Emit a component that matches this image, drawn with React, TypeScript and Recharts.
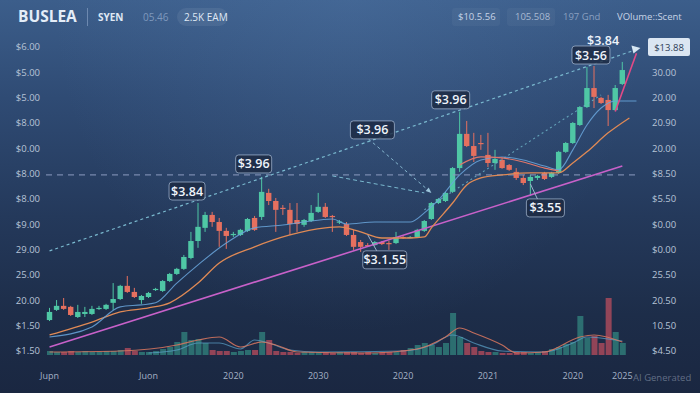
import {
  Bar,
  Cell,
  ComposedChart,
  Line,
  ReferenceDot,
  ReferenceLine,
  XAxis,
  YAxis,
} from 'recharts';

// candle values (price units of the left scale)
const opens = [
  1.22, 1.62, 1.78, 1.74, 1.34, 1.46, 1.46, 1.68, 1.66, 1.9,
  2.05, 2.57, 2.33, 2.01, 2.13, 2.41, 2.37, 2.76, 3.04, 3.24,
  3.67, 4.34, 4.86, 5.37, 5.09, 4.74, 4.58, 4.58, 4.74, 5.25,
  5.29, 6.24, 5.92, 5.65, 5.57, 5.17, 4.98, 5.13, 5.49, 5.69,
  5.33, 5.09, 5.01, 4.58, 4.3, 4.18, 4.18, 4.3, 4.26, 4.26,
  4.5, 4.48, 4.5, 4.74, 5.21, 5.84, 5.92, 6.28, 7.22, 8.57,
  8.09, 8.21, 7.74, 7.42, 7.54, 7.34, 7.07, 6.83, 6.71, 6.83,
  7.03, 6.87, 7.03, 7.86, 8.21, 8.92, 9.63, 10.38, 9.99, 9.91,
  9.51, 10.54,
];
const closes = [
  1.54, 1.78, 1.66, 1.42, 1.54, 1.54, 1.66, 1.7, 1.82, 2.05,
  2.57, 2.33, 2.13, 2.17, 2.29, 2.45, 2.76, 3.04, 3.24, 3.71,
  4.34, 4.9, 5.37, 5.09, 4.74, 4.54, 4.62, 4.78, 5.21, 4.78,
  6.28, 5.92, 5.57, 5.61, 5.01, 5.01, 5.17, 5.45, 5.69, 5.29,
  5.29, 5.11, 4.58, 4.11, 4.11, 4.15, 4.3, 4.22, 4.24, 4.5,
  4.46, 4.5, 4.78, 5.13, 5.84, 6.0, 6.24, 7.22, 8.57, 8.09,
  7.7, 8.17, 7.42, 7.58, 7.22, 7.15, 6.83, 6.63, 6.87, 6.91,
  6.79, 7.03, 7.86, 8.21, 9.0, 9.63, 10.38, 10.03, 9.79, 9.51,
  10.38, 11.09,
];
const highs = [
  1.7, 2.01, 2.09, 1.78, 1.82, 1.74, 1.78, 1.78, 1.86, 2.68,
  2.61, 2.96, 2.49, 2.21, 2.33, 2.49, 2.8, 3.08, 3.28, 3.79,
  4.7, 5.84, 5.49, 5.49, 5.25, 4.86, 4.7, 4.82, 5.25, 5.33,
  6.87, 6.4, 6.04, 5.76, 5.84, 5.84, 5.21, 5.76, 6.24, 5.84,
  5.37, 5.17, 5.09, 4.78, 4.38, 4.26, 4.34, 4.34, 4.34, 4.7,
  4.54, 4.54, 4.82, 5.17, 5.88, 6.04, 6.28, 7.26, 9.44, 9.08,
  8.61, 8.53, 8.61, 7.94, 7.62, 7.38, 7.22, 6.95, 6.95, 6.95,
  7.07, 7.07, 7.9, 8.25, 9.04, 9.67, 11.21, 11.25, 10.03, 10.11,
  10.5, 11.41,
];
const lows = [
  1.18, 1.58, 1.62, 1.38, 1.3, 1.34, 1.42, 1.62, 1.62, 1.62,
  2.01, 2.29, 2.09, 1.86, 2.09, 2.37, 2.33, 2.72, 3.0, 3.2,
  3.62, 4.07, 4.7, 4.9, 4.11, 4.03, 4.5, 4.54, 4.7, 4.74,
  5.17, 5.76, 4.7, 5.37, 4.58, 4.7, 4.9, 5.09, 5.45, 5.25,
  4.7, 5.01, 4.54, 3.99, 3.91, 4.11, 4.15, 4.18, 3.99, 4.22,
  4.42, 4.46, 4.46, 4.7, 5.17, 5.8, 5.88, 6.24, 7.07, 8.05,
  7.46, 7.94, 7.26, 7.15, 7.19, 7.11, 6.75, 6.55, 6.12, 6.75,
  6.75, 6.83, 6.99, 7.82, 8.17, 8.88, 9.59, 9.59, 9.75, 8.88,
  9.47, 10.5,
];
const volumes = [
  4, 3, 3, 4, 3, 4, 3, 3, 4, 4,
  5, 7, 4, 3, 3, 4, 6, 8, 13, 23,
  15, 16, 12, 5, 4, 4, 3, 4, 5, 5,
  23, 15, 4, 3, 3, 2, 3, 3, 3, 3,
  2, 3, 3, 3, 2, 3, 2, 3, 3, 3,
  5, 7, 10, 12, 10, 8, 12, 42, 18, 12,
  8, 4, 3, 3, 2, 2, 3, 3, 2, 3,
  4, 6, 8, 11, 13, 39, 17, 19, 12, 57,
  23, 12,
];

// indicator lines, [candle index, value]
const maFast: [number, number][] = [
  [0, 0.55], [6, 0.95], [10, 1.74], [13, 1.82], [15, 1.9], [18, 2.68], [21, 3.4],
  [25, 4.26], [29, 4.86], [33, 4.97], [36, 5.09], [40, 5.21], [42, 5.01], [46, 5.09],
  [51, 5.09], [53, 5.45], [55, 5.96], [58, 6.95], [61, 7.54], [64, 7.66], [67, 7.54],
  [70, 7.3], [72, 7.15], [74, 7.94], [76, 8.92], [78, 9.59], [80, 9.87], [83, 9.87],
];
const maSlow: [number, number][] = [
  [0, 0.63], [6, 1.14], [10, 1.54], [14, 1.7], [17, 1.9], [21, 2.68], [24, 3.47],
  [29, 4.11], [34, 4.58], [39, 4.86], [41, 4.9], [43, 4.78], [44, 4.7], [47, 4.46],
  [51, 4.46], [53, 4.5], [54, 4.86], [57, 5.84], [59, 6.55], [61, 6.83], [64, 6.95],
  [68, 7.03], [72, 7.03], [74, 7.42], [76, 7.86], [79, 8.61], [82, 9.2],
];
const maRed: [number, number][] = [
  [58, 7.34], [61, 7.66], [64, 7.62], [67, 7.46], [70, 7.22], [72, 7.11],
];
const trendUp: [number, number][] = [[0, 3.95], [83, 11.9]];
const trendLow: [number, number][] = [[0, 0.16], [81, 7.3]];
const trendMid: [number, number][] = [[53, 5.57], [78, 10.11]];
const trendPink: [number, number][] = [[80, 9.45], [83, 11.75]];
const arrowA: [number, number][] = [[40, 6.91], [53, 6.24]];
const volMaA: [number, number][] = [
  [0, 3], [10, 4], [18, 10], [21, 15], [24, 18], [27, 8], [30, 13], [32, 10], [35, 3],
  [45, 2], [52, 6], [56, 18], [58, 27], [60, 22], [64, 10], [66, 2], [70, 3], [75, 18],
  [77, 20], [81, 13],
];
const volMaB: [number, number][] = [
  [14, 2], [18, 5], [21, 12], [24, 12], [27, 6], [29, 15], [31, 12], [34, 5], [38, 3],
  [50, 4], [54, 10], [57, 20], [60, 12], [64, 4], [70, 3], [74, 12], [76, 18], [80, 15],
  [81, 14],
];

const leftTicks = [
  '$1.50', '$1.50', '20.00', '25.00', '29.00', '$9.00', '$8.00',
  '$8.00', '$0.00', '$8.00', '$5.00', '$5.00', '$6.00',
];
const rightTicks = [
  '$4.50', '10.50', '20.50', '25.50', '$0.00', '$0.00', '$5.50',
  '$8.50', '20.00', '20.90', '20.00', '30.00', '$13.88',
];
const xTickIndex = [0, 14, 26, 38, 50, 62, 74, 81];
const xTickLabels = ['Jupn', 'Juon', '2020', '2030', '2020', '2021', '2020', '2025'];

const notes = [
  { i: 21, v: highs[21], text: '$3.84', dx: -11, dy: -12, w: 36 },
  { i: 30, v: highs[30], text: '$3.96', dx: -8, dy: -13, w: 36 },
  { i: 54, v: 6.24, text: '$3.96', dx: -59, dy: -63, w: 44, arrow: true },
  { i: 58, v: highs[58], text: '$3.96', dx: -9, dy: -12, w: 38 },
  { i: 45, v: lows[45], text: '$3.1.55', dx: 17, dy: 13, w: 44, link: true },
  { i: 68, v: lows[68], text: '$3.55', dx: 15, dy: 12, w: 38, link: true },
  { i: 76, v: highs[76], text: '$3.56', dx: 4, dy: -12, w: 38 },
  { i: 77, v: highs[77], text: '$3.84', dx: 9, dy: -25, w: 0 },
];

const GREEN = '#4fc7a5';
const RED = '#e5705f';
const FONT = '"Open Sans", "Noto Sans", sans-serif';

const rows: any[] = Array.from({ length: opens.length + 2 }, (_, i) => ({
  key: `d${i}`,
  open: opens[i] ?? null,
  close: closes[i] ?? null,
  high: highs[i] ?? null,
  low: lows[i] ?? null,
  volume: volumes[i] ?? null,
}));
const put = (name: string, pts: [number, number][]) =>
  pts.forEach(([i, v]) => {
    rows[i][name] = v;
  });
put('maFast', maFast);
put('maSlow', maSlow);
put('maRed', maRed);
put('trendUp', trendUp);
put('trendLow', trendLow);
put('trendMid', trendMid);
put('trendPink', trendPink);
put('arrowA', arrowA);
put('volMaA', volMaA);
put('volMaB', volMaB);

const Candle = (props: any) => {
  const { x, y, width, height, payload } = props;
  if (!payload || payload.open == null) return null;
  const { open, close, high, low } = payload;
  const top = Math.min(y, y + height);
  const h = Math.abs(height);
  const k = high === low ? 0 : h / (high - low);
  const yO = top + (high - open) * k;
  const yC = top + (high - close) * k;
  const color = close >= open ? GREEN : RED;
  const cx = x + width / 2;
  return (
    <g>
      <line x1={cx} x2={cx} y1={top} y2={top + h} stroke={color} strokeWidth={1} />
      <rect
        x={cx - 2.7}
        y={Math.min(yO, yC)}
        width={5.4}
        height={Math.max(1.2, Math.abs(yO - yC))}
        fill={color}
      />
    </g>
  );
};

const NoteShape = (props: any) => {
  const { cx, cy, note } = props;
  const bx = cx + note.dx;
  const by = cy + note.dy;
  if (!note.w) {
    return (
      <text x={bx} y={by + 4} textAnchor="middle" fill="#eef3fa" fontSize={12.5} fontFamily={FONT} fontWeight={600}>
        {note.text}
      </text>
    );
  }
  let link = null;
  if (note.arrow) {
    const sx = bx - 4;
    const sy = by + 9;
    const ang = Math.atan2(cy - sy, cx - sx);
    const a1 = ang + Math.PI - 0.4;
    const a2 = ang + Math.PI + 0.4;
    link = (
      <g>
        <line x1={sx} y1={sy} x2={cx} y2={cy} stroke="#86b6cf" strokeWidth={1} strokeDasharray="3 3" />
        <polygon
          points={`${cx},${cy} ${cx + 6 * Math.cos(a1)},${cy + 6 * Math.sin(a1)} ${cx + 6 * Math.cos(a2)},${cy + 6 * Math.sin(a2)}`}
          fill="#9cc6dc"
        />
      </g>
    );
  } else if (note.link) {
    link = <line x1={bx - 8} y1={by - 9} x2={cx} y2={cy - 12} stroke="#9fb3cc" strokeWidth={1} />;
  }
  return (
    <g>
      {link}
      <rect
        x={bx - note.w / 2}
        y={by - 9}
        width={note.w}
        height={18}
        rx={3}
        fill="rgba(28,42,66,0.82)"
        stroke="rgba(170,188,214,0.7)"
        strokeWidth={1}
      />
      <text x={bx} y={by + 4.5} textAnchor="middle" fill="#eef3fa" fontSize={12.5} fontFamily={FONT} fontWeight={600}>
        {note.text}
      </text>
    </g>
  );
};

const RightTick = (props: any) => {
  const { x, y, payload } = props;
  const label = rightTicks[payload.value];
  if (payload.value === 12) {
    return (
      <g>
        <rect x={x - 4} y={y - 9} width={42} height={18} rx={2} fill="#dbe6f2" />
        <text x={x + 17} y={y + 3.5} textAnchor="middle" fill="#2b3b55" fontSize={9.5} fontFamily={FONT}>
          {label}
        </text>
      </g>
    );
  }
  return (
    <text x={x} y={y + 3.5} textAnchor="start" fill="#b7c3d6" fontSize={9.5} fontFamily={FONT}>
      {label}
    </text>
  );
};

const upDot = (props: any) => {
  const { cx, cy, index } = props;
  if (index !== rows.length - 1 || cy == null) return <g key={index} />;
  return (
    <polygon
      key={index}
      points={`${cx + 4},${cy - 1.5} ${cx - 5},${cy - 4} ${cx - 3},${cy + 4}`}
      fill="#d6e6f2"
    />
  );
};

const headerText = (left: number, text: string, color: string, size: number, weight = 400) => (
  <div
    style={{
      position: 'absolute',
      left,
      top: 17 - size * 0.7,
      color,
      fontSize: size,
      fontWeight: weight,
      fontFamily: FONT,
      whiteSpace: 'nowrap',
      lineHeight: `${size * 1.4}px`,
    }}
  >
    {text}
  </div>
);

function App() {
  const priceTicks = leftTicks.map((_, i) => i);
  return (
    <div
      style={{
        position: 'fixed',
        left: 0,
        top: 0,
        width: 700,
        height: 393,
        overflow: 'hidden',
        background: 'linear-gradient(180deg, #3c5e8b 0%, #2f4b74 25%, #24395b 55%, #1d2d49 80%, #1a2741 100%)',
      }}
    >
      <div
        style={{
          position: 'absolute',
          inset: 0,
          background: 'radial-gradient(ellipse at 50% 0%, rgba(90,130,180,0.25) 0%, rgba(0,0,0,0) 60%)',
        }}
      />
      {headerText(18, 'BUSLEA', '#e4edf8', 15.5, 700)}
      <div style={{ position: 'absolute', left: 87, top: 8, width: 1, height: 18, background: '#6d89b0' }} />
      {headerText(98, 'SYEN', '#dfe8f4', 10, 700)}
      {headerText(143, '05.46', '#7f99bd', 10)}
      <div
        style={{
          position: 'absolute',
          left: 177,
          top: 8,
          width: 51,
          height: 18,
          borderRadius: 9,
          background: 'rgba(255,255,255,0.07)',
        }}
      />
      {headerText(184, '2.5K EAM', '#dfe8f4', 10)}
      <div style={{ position: 'absolute', left: 452, top: 8, width: 48, height: 18, borderRadius: 3, background: 'rgba(255,255,255,0.04)' }} />
      <div style={{ position: 'absolute', left: 507, top: 8, width: 48, height: 18, borderRadius: 3, background: 'rgba(255,255,255,0.04)' }} />
      {headerText(458, '$10.5.56', '#c7d4e6', 9.5)}
      {headerText(515, '105.508', '#a9bad2', 9.5)}
      {headerText(563, '197 Gnd', '#8aa0c0', 9.5)}
      {headerText(617, 'VOlume::Scent', '#c7d4e6', 9.5)}

      <ComposedChart
        width={700}
        height={393}
        data={rows}
        margin={{ top: 47, right: 0, bottom: 0, left: 0 }}
        style={{ position: 'absolute', left: 0, top: 0 }}
      >
        <XAxis
          xAxisId="x"
          dataKey="key"
          ticks={xTickIndex.map((i) => `d${i}`)}
          tickFormatter={(k: string) => xTickLabels[xTickIndex.indexOf(Number(k.slice(1)))] ?? ''}
          interval={0}
          axisLine={false}
          tickLine={false}
          tickSize={0}
          tickMargin={18}
          height={38}
          tick={{ fill: '#a6b2c6', fontSize: 9, fontFamily: FONT }}
        />
        <XAxis xAxisId="xv" dataKey="key" hide />
        <YAxis
          yAxisId="price"
          width={46}
          domain={[-0.16, 12]}
          ticks={priceTicks}
          interval={0}
          tickFormatter={(v: number) => leftTicks[v]}
          axisLine={false}
          tickLine={false}
          tickSize={0}
          tickMargin={6}
          tick={{ fill: '#b7c3d6', fontSize: 9.5, fontFamily: FONT }}
        />
        <YAxis
          yAxisId="priceR"
          orientation="right"
          width={60}
          domain={[-0.16, 12]}
          ticks={priceTicks}
          interval={0}
          axisLine={false}
          tickLine={false}
          tickSize={0}
          tickMargin={12}
          tick={RightTick}
        />
        <YAxis yAxisId="vol" hide domain={[0, 308]} />

        <Bar xAxisId="xv" yAxisId="vol" dataKey="volume" barSize={6} isAnimationActive={false}>
          {rows.map((r, i) => (
            <Cell
              key={i}
              fill={r.close >= r.open ? 'rgba(58,165,148,0.55)' : 'rgba(196,80,96,0.7)'}
            />
          ))}
        </Bar>
        <Line xAxisId="x" yAxisId="vol" dataKey="volMaB" type="monotone" stroke="#5ba3c9" strokeOpacity={0.7} strokeWidth={1.1} dot={false} connectNulls isAnimationActive={false} />
        <Line xAxisId="x" yAxisId="vol" dataKey="volMaA" type="monotone" stroke="#d9775f" strokeOpacity={0.85} strokeWidth={1.2} dot={false} connectNulls isAnimationActive={false} />

        <ReferenceLine xAxisId="x" yAxisId="price" y={6.95} stroke="#8d9cc0" strokeDasharray="6 5" strokeWidth={1} />

        <Line xAxisId="x" yAxisId="priceR" dataKey="trendUp" type="linear" stroke="#7ab9cf" strokeWidth={1.2} strokeDasharray="3 3" dot={upDot} connectNulls isAnimationActive={false} />
        <Line xAxisId="x" yAxisId="price" dataKey="trendMid" type="linear" stroke="#6cb2c4" strokeOpacity={0.85} strokeWidth={1.1} strokeDasharray="2 3" dot={false} connectNulls isAnimationActive={false} />
        <Line xAxisId="x" yAxisId="price" dataKey="arrowA" type="linear" stroke="#7ab9cf" strokeWidth={1} strokeDasharray="4 3" dot={false} connectNulls isAnimationActive={false} />
        <Line xAxisId="x" yAxisId="price" dataKey="trendLow" type="linear" stroke="#c861c9" strokeWidth={1.6} dot={false} connectNulls isAnimationActive={false} />
        <Line xAxisId="x" yAxisId="price" dataKey="maSlow" type="monotone" stroke="#e08a55" strokeWidth={1.3} dot={false} connectNulls isAnimationActive={false} />
        <Line xAxisId="x" yAxisId="price" dataKey="maFast" type="monotone" stroke="#6aa6dc" strokeOpacity={0.85} strokeWidth={1.1} dot={false} connectNulls isAnimationActive={false} />
        <Line xAxisId="x" yAxisId="price" dataKey="maRed" type="monotone" stroke="#e0766a" strokeWidth={1.2} dot={false} connectNulls isAnimationActive={false} />
        <Line xAxisId="x" yAxisId="price" dataKey="trendPink" type="linear" stroke="#e24a86" strokeWidth={1.6} dot={false} connectNulls isAnimationActive={false} />

        <Bar
          xAxisId="x"
          yAxisId="price"
          dataKey={(d: any) => (d.open == null ? null : [d.low, d.high])}
          barSize={7}
          shape={Candle}
          isAnimationActive={false}
        />

        {notes.map((n, k) => (
          <ReferenceDot
            key={k}
            xAxisId="x"
            yAxisId="price"
            x={`d${n.i}`}
            y={n.v}
            ifOverflow="visible"
            shape={(p: any) => <NoteShape {...p} note={n} />}
          />
        ))}
      </ComposedChart>

      <div
        style={{
          position: 'absolute',
          left: 633,
          top: 371,
          color: 'rgba(200,210,225,0.42)',
          fontSize: 9.5,
          fontFamily: FONT,
          whiteSpace: 'nowrap',
        }}
      >
        AI Generated
      </div>
    </div>
  );
}

export default App;
